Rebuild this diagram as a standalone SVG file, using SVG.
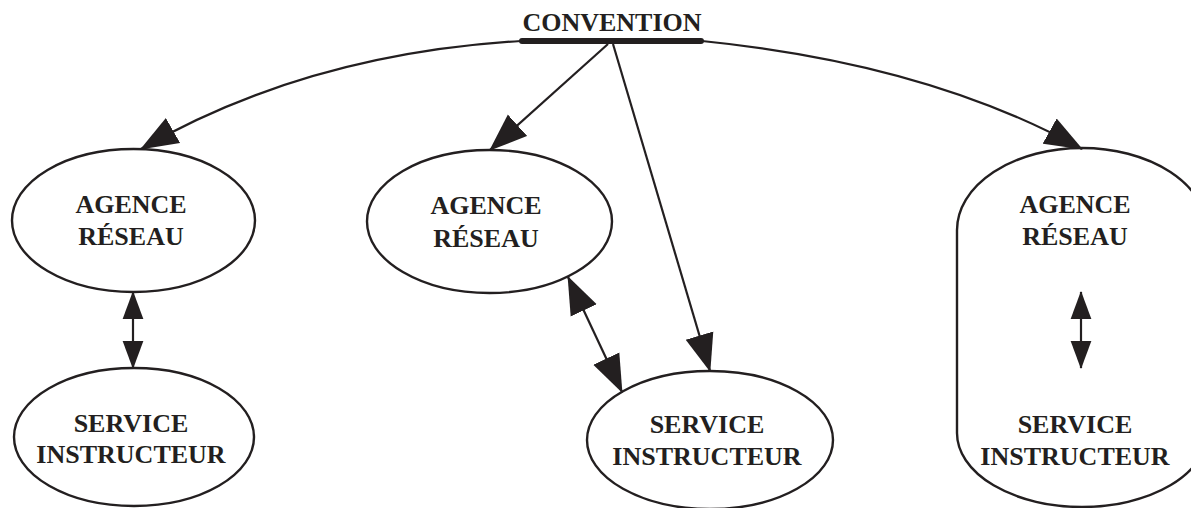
<svg xmlns="http://www.w3.org/2000/svg" width="1191" height="508" viewBox="0 0 1191 508">
<defs>
<style>
.shape{fill:#fff;stroke:#231f20;stroke-width:2.4}
.lbl{font-family:"Liberation Serif","Times New Roman",serif;font-weight:bold;font-size:26px;fill:#231f20;text-anchor:middle}
.edge{fill:none;stroke:#231f20;stroke-width:2.2}
.bar{stroke:#231f20;stroke-width:6;stroke-linecap:round}
</style>
<marker id="ah" markerUnits="userSpaceOnUse" markerWidth="38" markerHeight="30" viewBox="0 0 37 28" refX="36" refY="14" orient="auto-start-reverse"><path d="M0,0L37,14L0,28z" fill="#231f20"/></marker>
<marker id="ahs" markerUnits="userSpaceOnUse" markerWidth="28" markerHeight="22" viewBox="0 0 27 20" refX="26" refY="10" orient="auto-start-reverse"><path d="M0,0L27,10L0,20z" fill="#231f20"/></marker>
</defs>
<rect width="1191" height="508" fill="#fff"/>
<g id="convention">
<text class="lbl" x="612" y="31">CONVENTION</text>
<line class="bar" x1="522" y1="41" x2="701" y2="41"/>
</g>
<g id="agence-left">
<ellipse class="shape" cx="133.5" cy="220.5" rx="121.5" ry="71.5"/>
<text class="lbl" x="131" y="213">AGENCE</text>
<text class="lbl" x="131" y="245">RÉSEAU</text>
</g>
<g id="service-left">
<ellipse class="shape" cx="134" cy="437" rx="120" ry="69"/>
<text class="lbl" x="131" y="432">SERVICE</text>
<text class="lbl" x="131" y="463">INSTRUCTEUR</text>
</g>
<g id="agence-middle">
<ellipse class="shape" cx="489.5" cy="221.5" rx="122.5" ry="71.5"/>
<text class="lbl" x="486" y="214">AGENCE</text>
<text class="lbl" x="486" y="247">RÉSEAU</text>
</g>
<g id="service-middle">
<ellipse class="shape" cx="710" cy="440" rx="123" ry="69"/>
<text class="lbl" x="707" y="433">SERVICE</text>
<text class="lbl" x="707" y="465">INSTRUCTEUR</text>
</g>
<g id="agence-service-right">
<path class="shape" d="M957,230 A125,82 0 0 1 1207,230 L1207,433 A125,74 0 0 1 957,433 Z"/>
<text class="lbl" x="1075" y="213">AGENCE</text>
<text class="lbl" x="1075" y="245">RÉSEAU</text>
<text class="lbl" x="1075" y="433">SERVICE</text>
<text class="lbl" x="1075" y="465">INSTRUCTEUR</text>
</g>
<g id="connectors">
<path class="edge" d="M521,41 Q306,54 141,149" marker-end="url(#ah)"/>
<path class="edge" d="M702,41 Q928.5,63.7 1082,149" marker-end="url(#ah)"/>
<path class="edge" d="M608,44 L490,150" marker-end="url(#ah)"/>
<path class="edge" d="M613,44 L710,371" marker-end="url(#ah)"/>
<path class="edge" d="M568,277 L622,392" marker-start="url(#ah)" marker-end="url(#ah)"/>
<path class="edge" d="M133,292 L133,368" marker-start="url(#ahs)" marker-end="url(#ahs)"/>
<path class="edge" d="M1081,292 L1081,368" marker-start="url(#ahs)" marker-end="url(#ahs)"/>
</g>
</svg>
